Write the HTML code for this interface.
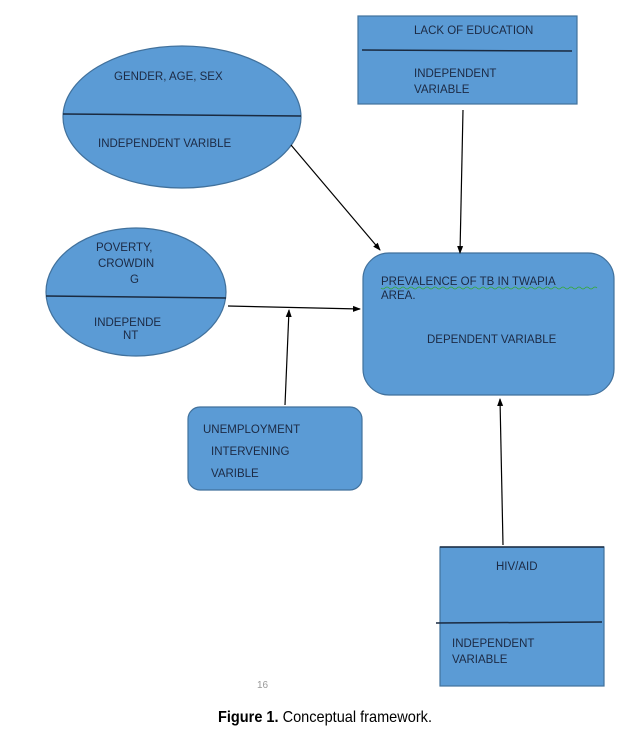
<!DOCTYPE html>
<html><head><style>
body{margin:0;background:#fff;width:642px;height:729px;overflow:hidden}
svg text{font-family:"Liberation Sans",sans-serif;font-size:11.5px;fill:#1c2a44}
</style></head><body>
<svg width="642" height="729" viewBox="0 0 642 729">
<defs><marker id="a" markerWidth="8" markerHeight="8" refX="7" refY="4" orient="auto" markerUnits="userSpaceOnUse"><path d="M0,1 L8,4 L0,7z" fill="#000"/></marker></defs>
<g fill="#5b9bd5" stroke="#41719c" stroke-width="1.2">
<ellipse cx="182" cy="117" rx="119" ry="71"/>
<rect x="358" y="16" width="219" height="88"/>
<ellipse cx="136" cy="292" rx="90" ry="64"/>
<rect x="363" y="253" width="251" height="142" rx="26"/>
<rect x="188" y="407" width="174" height="83" rx="12"/>
<rect x="440" y="547" width="164" height="139"/>
</g>
<g stroke="#1a2a40" stroke-width="1.5">
<line x1="63" y1="114" x2="301" y2="116"/>
<line x1="362" y1="50" x2="572" y2="51"/>
<line x1="46" y1="296" x2="226" y2="298"/>
<line x1="436" y1="623" x2="602" y2="622"/>
<line x1="440" y1="547" x2="604" y2="547"/>
</g>
<g stroke="#000" stroke-width="1.2" fill="none" marker-end="url(#a)">
<line x1="291" y1="145" x2="380" y2="250"/>
<line x1="463" y1="110" x2="460" y2="253"/>
<line x1="228" y1="306" x2="360" y2="309"/>
<line x1="285" y1="405" x2="289" y2="310"/>
<line x1="503" y1="545" x2="500" y2="399"/>
</g>
<text x="114" y="80">GENDER, AGE, SEX</text>
<text x="98" y="147">INDEPENDENT VARIBLE</text>
<text x="414" y="34">LACK OF EDUCATION</text>
<text x="414" y="77">INDEPENDENT</text>
<text x="414" y="93">VARIABLE</text>
<text x="96" y="251">POVERTY,</text>
<text x="98" y="267">CROWDIN</text>
<text x="130" y="283">G</text>
<text x="94" y="326">INDEPENDE</text>
<text x="123" y="339">NT</text>
<text x="381" y="285">PREVALENCE OF TB IN TWAPIA</text>
<text x="381" y="299">AREA.</text>
<path d="M381 288 q2 2 4 0 t4 0 t4 0 t4 0 t4 0 t4 0 t4 0 t4 0 t4 0 t4 0 t4 0 t4 0 t4 0 t4 0 t4 0 t4 0 t4 0 t4 0 t4 0 t4 0 t4 0 t4 0 t4 0 t4 0 t4 0 t4 0 t4 0 t4 0 t4 0 t4 0 t4 0 t4 0 t4 0 t4 0 t4 0 t4 0 t4 0 t4 0 t4 0 t4 0 t4 0 t4 0 t4 0 t4 0 t4 0 t4 0 t4 0 t4 0 t4 0 t4 0 t4 0 t4 0 t4 0 t4 0" stroke="#3a3" stroke-width="0.8" fill="none"/>
<text x="427" y="343">DEPENDENT VARIABLE</text>
<text x="203" y="433">UNEMPLOYMENT</text>
<text x="211" y="455">INTERVENING</text>
<text x="211" y="477">VARIBLE</text>
<text x="496" y="570">HIV/AID</text>
<text x="452" y="647">INDEPENDENT</text>
<text x="452" y="663">VARIABLE</text>
<text x="257" y="688" style="fill:#999;font-size:10px">16</text>
<text x="218" y="722" textLength="214" lengthAdjust="spacingAndGlyphs" style="font-size:16px;fill:#000"><tspan font-weight="bold">Figure 1.</tspan> Conceptual framework.</text>
</svg>
</body></html>
